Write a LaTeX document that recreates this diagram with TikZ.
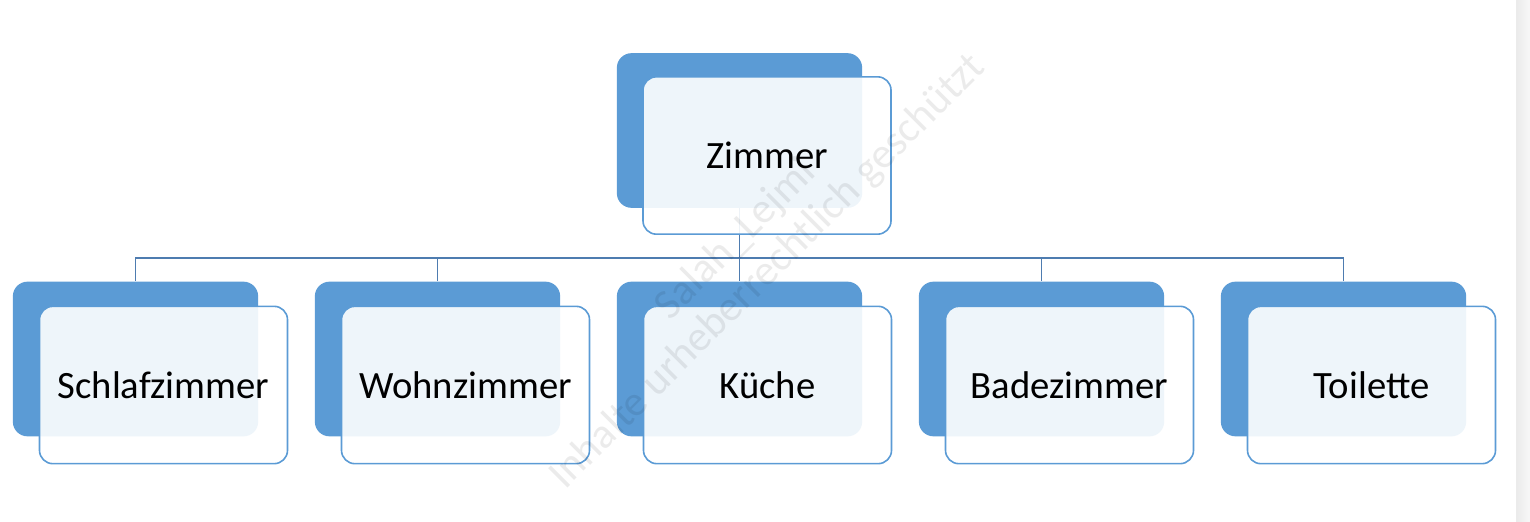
\documentclass[tikz,border=0pt]{standalone}
\usepackage{fontspec}
\setmainfont{Carlito}
\definecolor{accent}{RGB}{91,155,213}
\definecolor{linkcol}{RGB}{78,124,176}
\tikzset{
  backbox/.style={draw=none,fill=accent,rounded corners=11pt,minimum width=184pt,minimum height=116pt,inner sep=0pt},
  frontbox/.style={draw=accent,line width=1.2pt,fill=white,fill opacity=0.9,text opacity=1,rounded corners=10pt,minimum width=186pt,minimum height=118pt,inner sep=0pt,font=\fontsize{29}{34}\selectfont},
  conn/.style={draw=linkcol,line width=1.4pt}
}
\begin{document}
\begin{tikzpicture}[x=0.75pt,y=0.75pt,yscale=-1,xscale=1]
        \useasboundingbox (0,0) rectangle (1530,521);
        % Page edge
        \fill [left color=black!8, right color=black!3] (1516,0) rectangle (1530,521);
        % Back Boxes
        \node [backbox] (zimmerb) at (739.5,130.5) {};
        \node [backbox] (schlafb) at (135.5,359) {};
        \node [backbox] (wohnb) at (437.5,359) {};
        \node [backbox] (kuecheb) at (739.5,359) {};
        \node [backbox] (badb) at (1041.5,359) {};
        \node [backbox] (toiletteb) at (1343.5,359) {};
        % Connection
        \draw [conn] (zimmerb.south) -- ++(0,50) coordinate (bus) -| (schlafb.north);
        \draw [conn] (bus) -| (wohnb.north);
        \draw [conn] (bus) -- (kuecheb.north);
        \draw [conn] (bus) -| (badb.north);
        \draw [conn] (bus) -| (toiletteb.north);
        % Text Node
        \node [frontbox] (zimmer) at (767,155.5) {Zimmer};
        % Text Node
        \node [frontbox] (schlaf) at (163.5,385) {Schlafzimmer};
        % Text Node
        \node [frontbox] (wohn) at (465.5,385) {Wohnzimmer};
        % Text Node
        \node [frontbox] (kueche) at (767.5,385) {Küche};
        % Text Node
        \node [frontbox] (bad) at (1069.5,385) {Badezimmer};
        % Text Node
        \node [frontbox] (toilette) at (1371.5,385) {Toilette};
        % Watermark
        \node [rotate=45, align=center, text=black, text opacity=0.08, font=\fontsize{32}{34}\selectfont] (mark) at (752,256) {Salah\_Lejmi\\Inhalte urheberrechtlich geschützt};
\end{tikzpicture}
\end{document}
